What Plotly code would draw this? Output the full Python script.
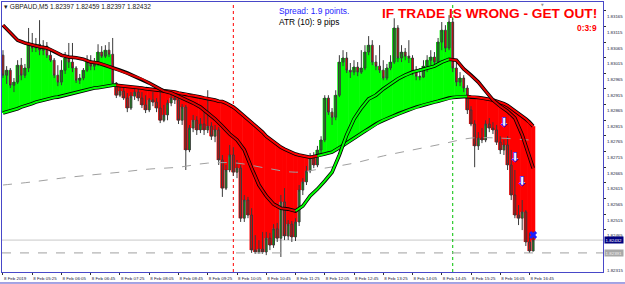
import pandas as pd
import plotly.graph_objects as go

symbol = "GBPAUD,M5"
bar_start = "2019-02-08 04:45"
n_bars = 146

open_p = [1.83023, 1.82959, 1.82975, 1.82927, 1.82937, 1.82991, 1.82959, 1.82982, 1.83058, 1.83046,
          1.83058, 1.83039, 1.83052, 1.83023, 1.83007, 1.82959, 1.82937, 1.82975, 1.83014, 1.83001,
          1.82982, 1.82943, 1.82950, 1.82975, 1.83001, 1.82988, 1.82995, 1.83033, 1.83020, 1.83039,
          1.83026, 1.82934, 1.82895, 1.82908, 1.82886, 1.82854, 1.82892, 1.82905, 1.82886, 1.82864,
          1.82848, 1.82880, 1.82873, 1.82854, 1.82815, 1.82832, 1.82870, 1.82886, 1.82880, 1.82815,
          1.82857, 1.82720, 1.82790, 1.82815, 1.82784, 1.82803, 1.82784, 1.82796, 1.82764, 1.82784,
          1.82688, 1.82598, 1.82656, 1.82704, 1.82649, 1.82662, 1.82502, 1.82560, 1.82512, 1.82400,
          1.82394, 1.82403, 1.82394, 1.82438, 1.82416, 1.82468, 1.82438, 1.82554, 1.82445, 1.82483,
          1.82442, 1.82490, 1.82592, 1.82618, 1.82653, 1.82694, 1.82672, 1.82720, 1.82752, 1.82886,
          1.82841, 1.82825, 1.82895, 1.83001, 1.83014, 1.82975, 1.82969, 1.82985, 1.82969, 1.82982,
          1.83033, 1.83055, 1.83001, 1.82988, 1.82975, 1.82950, 1.82982, 1.83001, 1.83110, 1.83014,
          1.83033, 1.83020, 1.83014, 1.82969, 1.82956, 1.82953, 1.82988, 1.83007, 1.83017, 1.83001,
          1.83065, 1.83103, 1.83046, 1.83129, 1.82982, 1.82937, 1.82950, 1.82918, 1.82848, 1.82803,
          1.82733, 1.82758, 1.82752, 1.82803, 1.82790, 1.82784, 1.82745, 1.82720, 1.82736, 1.82672,
          1.82576, 1.82512, 1.82502, 1.82522, 1.82426, 1.82397]
high_p = [1.83039, 1.82988, 1.82982, 1.82950, 1.83007, 1.83014, 1.82995, 1.83110, 1.83094, 1.83078,
          1.83135, 1.83071, 1.83065, 1.83046, 1.83014, 1.82991, 1.83007, 1.83033, 1.83062, 1.83062,
          1.82988, 1.82963, 1.82982, 1.83023, 1.83023, 1.83014, 1.83058, 1.83052, 1.83055, 1.83065,
          1.83078, 1.82937, 1.82921, 1.82918, 1.82902, 1.82905, 1.82921, 1.82915, 1.82905, 1.82895,
          1.82886, 1.82905, 1.82886, 1.82905, 1.82864, 1.82880, 1.82905, 1.82899, 1.82886, 1.82867,
          1.82864, 1.82800, 1.82832, 1.82828, 1.82822, 1.82841, 1.82911, 1.82809, 1.82800, 1.82793,
          1.82704, 1.82672, 1.82736, 1.82729, 1.82688, 1.82672, 1.82576, 1.82570, 1.82534, 1.82448,
          1.82432, 1.82458, 1.82458, 1.82455, 1.82483, 1.82487, 1.82576, 1.82598, 1.82496, 1.82493,
          1.82502, 1.82608, 1.82630, 1.82669, 1.82710, 1.82713, 1.82733, 1.82764, 1.82895, 1.82895,
          1.82854, 1.82911, 1.83023, 1.83039, 1.83033, 1.82998, 1.83007, 1.83001, 1.83039, 1.83055,
          1.83084, 1.83071, 1.83023, 1.83055, 1.83007, 1.82995, 1.83023, 1.83141, 1.83119, 1.83055,
          1.83046, 1.83071, 1.83023, 1.82988, 1.82982, 1.83007, 1.83023, 1.83039, 1.83033, 1.83078,
          1.83129, 1.83119, 1.83151, 1.83141, 1.83001, 1.82969, 1.82959, 1.82927, 1.82860, 1.82815,
          1.82777, 1.82790, 1.82815, 1.82822, 1.82809, 1.82800, 1.82764, 1.82752, 1.82764, 1.82720,
          1.82656, 1.82544, 1.82560, 1.82528, 1.82455, 1.82459]
low_p = [1.82950, 1.82931, 1.82918, 1.82905, 1.82931, 1.82943, 1.82950, 1.82969, 1.83033, 1.83033,
         1.83023, 1.83023, 1.83014, 1.83001, 1.82950, 1.82924, 1.82927, 1.82963, 1.82982, 1.82969,
         1.82934, 1.82931, 1.82943, 1.82969, 1.82975, 1.82975, 1.82988, 1.83014, 1.83014, 1.83017,
         1.82927, 1.82886, 1.82889, 1.82880, 1.82841, 1.82848, 1.82880, 1.82876, 1.82854, 1.82838,
         1.82841, 1.82860, 1.82841, 1.82806, 1.82809, 1.82815, 1.82860, 1.82867, 1.82803, 1.82800,
         1.82656, 1.82713, 1.82777, 1.82768, 1.82774, 1.82768, 1.82774, 1.82752, 1.82745, 1.82672,
         1.82570, 1.82592, 1.82649, 1.82637, 1.82630, 1.82490, 1.82490, 1.82502, 1.82391, 1.82388,
         1.82388, 1.82388, 1.82384, 1.82400, 1.82407, 1.82426, 1.82378, 1.82432, 1.82432, 1.82426,
         1.82429, 1.82477, 1.82576, 1.82608, 1.82646, 1.82662, 1.82665, 1.82710, 1.82745, 1.82832,
         1.82800, 1.82815, 1.82889, 1.82988, 1.82966, 1.82950, 1.82959, 1.82956, 1.82963, 1.82975,
         1.83023, 1.82991, 1.82975, 1.82966, 1.82943, 1.82943, 1.82975, 1.82995, 1.83001, 1.83001,
         1.83007, 1.82998, 1.82959, 1.82943, 1.82943, 1.82950, 1.82969, 1.82991, 1.82991, 1.82995,
         1.83039, 1.83033, 1.83039, 1.82969, 1.82924, 1.82924, 1.82905, 1.82835, 1.82796, 1.82665,
         1.82720, 1.82742, 1.82745, 1.82777, 1.82771, 1.82736, 1.82707, 1.82704, 1.82656, 1.82560,
         1.82502, 1.82480, 1.82464, 1.82413, 1.82391, 1.82397]
close_p = [1.82959, 1.82975, 1.82927, 1.82937, 1.82991, 1.82959, 1.82982, 1.83058, 1.83046, 1.83058,
           1.83039, 1.83052, 1.83023, 1.83007, 1.82959, 1.82937, 1.82975, 1.83014, 1.83001, 1.82982,
           1.82943, 1.82950, 1.82975, 1.83001, 1.82988, 1.82995, 1.83033, 1.83020, 1.83039, 1.83026,
           1.82934, 1.82895, 1.82908, 1.82886, 1.82854, 1.82892, 1.82905, 1.82886, 1.82864, 1.82848,
           1.82880, 1.82873, 1.82854, 1.82815, 1.82832, 1.82870, 1.82886, 1.82880, 1.82815, 1.82857,
           1.82720, 1.82790, 1.82815, 1.82784, 1.82803, 1.82784, 1.82796, 1.82764, 1.82784, 1.82688,
           1.82598, 1.82656, 1.82704, 1.82649, 1.82662, 1.82502, 1.82560, 1.82512, 1.82400, 1.82394,
           1.82403, 1.82394, 1.82438, 1.82416, 1.82468, 1.82438, 1.82554, 1.82445, 1.82483, 1.82442,
           1.82490, 1.82592, 1.82618, 1.82653, 1.82694, 1.82672, 1.82720, 1.82752, 1.82886, 1.82841,
           1.82825, 1.82895, 1.83001, 1.83014, 1.82975, 1.82969, 1.82985, 1.82969, 1.82982, 1.83033,
           1.83055, 1.83001, 1.82988, 1.82975, 1.82950, 1.82982, 1.83001, 1.83110, 1.83014, 1.83033,
           1.83020, 1.83014, 1.82969, 1.82956, 1.82953, 1.82988, 1.83007, 1.83017, 1.83001, 1.83065,
           1.83103, 1.83046, 1.83129, 1.82982, 1.82937, 1.82950, 1.82918, 1.82848, 1.82803, 1.82733,
           1.82758, 1.82752, 1.82803, 1.82790, 1.82784, 1.82745, 1.82720, 1.82736, 1.82672, 1.82576,
           1.82512, 1.82502, 1.82522, 1.82426, 1.82397, 1.82432]

# slow moving average (one value per bar)
slow_ma = [1.82838, 1.82841, 1.82844, 1.82848, 1.82852, 1.82857, 1.82860, 1.82864, 1.82868, 1.82873,
           1.82876, 1.82880, 1.82883, 1.82886, 1.82888, 1.82889, 1.82892, 1.82895, 1.82897, 1.82899,
           1.82902, 1.82905, 1.82908, 1.82911, 1.82915, 1.82918, 1.82919, 1.82921, 1.82924, 1.82926,
           1.82927, 1.82927, 1.82926, 1.82924, 1.82924, 1.82923, 1.82921, 1.82919, 1.82918, 1.82916,
           1.82915, 1.82913, 1.82911, 1.82911, 1.82910, 1.82908, 1.82907, 1.82905, 1.82902, 1.82900,
           1.82899, 1.82895, 1.82894, 1.82892, 1.82889, 1.82886, 1.82884, 1.82883, 1.82880, 1.82876,
           1.82875, 1.82870, 1.82864, 1.82857, 1.82848, 1.82838, 1.82828, 1.82819, 1.82809, 1.82800,
           1.82787, 1.82777, 1.82764, 1.82755, 1.82745, 1.82736, 1.82729, 1.82723, 1.82717, 1.82712,
           1.82707, 1.82704, 1.82701, 1.82699, 1.82697, 1.82699, 1.82701, 1.82704, 1.82707, 1.82710,
           1.82713, 1.82720, 1.82726, 1.82734, 1.82742, 1.82750, 1.82758, 1.82766, 1.82774, 1.82780,
           1.82787, 1.82795, 1.82803, 1.82809, 1.82815, 1.82820, 1.82825, 1.82830, 1.82835, 1.82840,
           1.82844, 1.82848, 1.82852, 1.82857, 1.82860, 1.82864, 1.82867, 1.82870, 1.82873, 1.82876,
           1.82880, 1.82883, 1.82886, 1.82888, 1.82889, 1.82891, 1.82891, 1.82891, 1.82889, 1.82889,
           1.82888, 1.82886, 1.82884, 1.82883, 1.82880, 1.82876, 1.82873, 1.82868, 1.82862, 1.82854,
           1.82844, 1.82836, 1.82828, 1.82819, 1.82809, 1.82796]

# fast moving average, read every second bar
fast_ma_bars = list(range(0, 145, 2)) + [145]
fast_ma = [1.83119, 1.83094, 1.83071, 1.83062, 1.83055, 1.83050, 1.83046, 1.83036, 1.83023, 1.83017,
           1.83015, 1.83010, 1.83001, 1.82998, 1.82991, 1.82982, 1.82975, 1.82966, 1.82956, 1.82947,
           1.82934, 1.82921, 1.82908, 1.82902, 1.82892, 1.82880, 1.82870, 1.82857, 1.82838, 1.82819,
           1.82796, 1.82771, 1.82752, 1.82720, 1.82662, 1.82608, 1.82573, 1.82547, 1.82534, 1.82531,
           1.82525, 1.82541, 1.82573, 1.82595, 1.82621, 1.82649, 1.82704, 1.82768, 1.82819, 1.82854,
           1.82883, 1.82895, 1.82915, 1.82931, 1.82947, 1.82959, 1.82969, 1.82975, 1.82982, 1.82988,
           1.83001, 1.83010, 1.83007, 1.82979, 1.82959, 1.82937, 1.82908, 1.82880, 1.82860, 1.82844,
           1.82822, 1.82768, 1.82697, 1.82662]

# long moving average (gray dashed), read every eighth bar
long_ma_bars = list(range(0, 145, 8)) + [145]
long_ma = [1.82608, 1.82618, 1.82630, 1.82640, 1.82649, 1.82659, 1.82665, 1.82678, 1.82678, 1.82662,
           1.82649, 1.82662, 1.82678, 1.82701, 1.82720, 1.82739, 1.82758, 1.82758, 1.82752, 1.82752]

price_ticks = [1.82465, 1.82515, 1.82565, 1.82615, 1.82665, 1.82715, 1.82765, 1.82815,
               1.82865, 1.82915, 1.82965, 1.83015, 1.83065, 1.83115, 1.83165]
bottom_tick = 1.82315
time_labels = ["8 Feb 2019", "8 Feb 05:25", "8 Feb 06:05", "8 Feb 06:45", "8 Feb 07:25",
               "8 Feb 08:05", "8 Feb 08:45", "8 Feb 09:25", "8 Feb 10:05", "8 Feb 10:45",
               "8 Feb 11:25", "8 Feb 12:05", "8 Feb 12:45", "8 Feb 13:25", "8 Feb 14:05",
               "8 Feb 14:45", "8 Feb 15:25", "8 Feb 16:05", "8 Feb 16:45"]
signal_bars = [137, 140, 142]
signal_prices = [1.82809, 1.82697, 1.82621]
exit_bar = 145
exit_price = 1.82448
bid_price = 1.82432
level_price = 1.82391
session_marks = ["2019-02-08 10:00", "2019-02-08 15:00"]
session_colors = ["#FF0000", "#00C000"]

BLUE = "#4848C8"
AX_FONT = dict(family="Liberation Sans", size=4.4, color="#1a1a3a")

times = pd.date_range(bar_start, periods=n_bars, freq="5min")
step = pd.Timedelta(minutes=5)
y0, y1 = 1.82330, 1.83193
LABEL_SHIFT = 6

fig = go.Figure()

# histogram between slow MA and close
above = [c > s for c, s in zip(close_p, slow_ma)]
fig.add_trace(go.Bar(
    x=times, base=slow_ma, y=[c - s for c, s in zip(close_p, slow_ma)],
    width=step.total_seconds() * 1000 * 1.15,
    marker=dict(color=["#00FF00" if a else "#FF0000" for a in above], line=dict(width=0)),
    hoverinfo="skip"))

# long MA
fig.add_trace(go.Scatter(x=times[long_ma_bars], y=long_ma, mode="lines",
                         line=dict(color="#A0A0A0", width=1, dash="dash", shape="spline"),
                         hoverinfo="skip"))

# candles
fig.add_trace(go.Candlestick(
    x=times, open=open_p, high=high_p, low=low_p, close=close_p,
    increasing=dict(fillcolor="#0A980A", line=dict(color="#3a3a3a", width=1)),
    decreasing=dict(fillcolor="#E60000", line=dict(color="#3a3a3a", width=1)),
    whiskerwidth=0, hoverinfo="skip"))


def runs(flags):
    out, s = [], 0
    for i in range(1, len(flags) + 1):
        if i == len(flags) or flags[i] != flags[s]:
            out.append((s, i - 1, flags[s]))
            s = i
    return out


# slow MA: black outline + coloured core
fig.add_trace(go.Scatter(x=times, y=slow_ma, mode="lines",
                         line=dict(color="#000000", width=3.6), hoverinfo="skip"))
for a, b, flag in runs(above):
    e = min(b + 1, n_bars - 1)
    fig.add_trace(go.Scatter(x=times[a:e + 1], y=slow_ma[a:e + 1], mode="lines",
                             line=dict(color="#00FF00" if flag else "#FF0000", width=2),
                             hoverinfo="skip"))

# fast MA: black outline + coloured core by slope
fx = times[fast_ma_bars]
fig.add_trace(go.Scatter(x=fx, y=fast_ma, mode="lines",
                         line=dict(color="#000000", width=3.6), hoverinfo="skip"))
rising = [fast_ma[k + 1] > fast_ma[k] for k in range(len(fast_ma) - 1)]
for a, b, flag in runs(rising):
    fig.add_trace(go.Scatter(x=fx[a:b + 2], y=fast_ma[a:b + 2], mode="lines",
                             line=dict(color="#00FF00" if flag else "#E00000", width=2),
                             hoverinfo="skip"))

# exit mark
fig.add_trace(go.Scatter(x=[times[exit_bar]], y=[exit_price], mode="markers",
                         marker=dict(symbol="x", size=7, color="#1E1EFF"), hoverinfo="skip"))

shapes = [
    dict(type="line", xref="paper", x0=0, x1=1, yref="y", y0=bid_price, y1=bid_price,
         line=dict(color="#C8C8C8", width=1), layer="below"),
    dict(type="line", xref="paper", x0=0, x1=1, yref="y", y0=level_price, y1=level_price,
         line=dict(color="#A0A0A0", width=1, dash="dash"), layer="above"),
    dict(type="line", xref="paper", x0=-0.004, x1=1.04, yref="paper", y0=-0.0407, y1=-0.0407,
         line=dict(color=BLUE, width=1)),
]
for t, c in zip(session_marks, session_colors):
    shapes.append(dict(type="line", xref="x", x0=pd.Timestamp(t), x1=pd.Timestamp(t),
                       yref="paper", y0=0, y1=1, line=dict(color=c, width=1, dash="dot"),
                       layer="below"))

annotations = []
for b, p in zip(signal_bars, signal_prices):
    annotations.append(dict(x=times[b], y=p, text="⬇", showarrow=False, borderpad=0,
                            font=dict(family="DejaVu Sans", size=12, color="#FFFFFF")))
    annotations.append(dict(x=times[b], y=p, text="⇩", showarrow=False, borderpad=0,
                            font=dict(family="DejaVu Sans", size=14, color="#1E1EFF")))

title_txt = "▾ {} {:.5f} {:.5f} {:.5f} {:.5f}".format(symbol, open_p[-1], high_p[-1], low_p[-1], close_p[-1])
annotations += [
    dict(xref="paper", yref="paper", x=0.0017, y=0.985, xanchor="left", yanchor="middle",
         text=title_txt, showarrow=False, borderpad=0,
         font=dict(family="Liberation Sans", size=6.6, color="#202020")),
    dict(xref="paper", yref="paper", x=0.4592, y=0.948, xanchor="left", yanchor="middle",
         text="<span style='color:#1E1EFF'>Spread: 1.9 points.</span><br>ATR (10): 9 pips",
         showarrow=False, align="left", borderpad=0,
         font=dict(family="Liberation Sans", size=8.4, color="#000000")),
    dict(xref="paper", yref="paper", x=0.9917, y=0.9556, xanchor="right", yanchor="middle",
         text="<b>IF TRADE IS WRONG - GET OUT!</b>", showarrow=False, borderpad=0,
         font=dict(family="Liberation Sans", size=13.7, color="#FF0000")),
    dict(xref="paper", yref="paper", x=0.9917, y=0.9037, xanchor="right", yanchor="middle",
         text="<b>0:3:9</b>", showarrow=False, borderpad=0,
         font=dict(family="Liberation Sans", size=8.4, color="#FF0000")),
    dict(xref="paper", yref="y", x=1, y=bid_price, xanchor="left", yanchor="middle", xshift=1,
         text="{:.5f}".format(bid_price), showarrow=False, bgcolor="#000080", borderpad=0.6,
         font=dict(family="Liberation Sans", size=4.4, color="#FFFFFF")),
    dict(xref="paper", yref="y", x=1, y=level_price, xanchor="left", yanchor="middle", xshift=1,
         text="{:.5f}".format(level_price), showarrow=False, bgcolor="#A8A8A8", borderpad=0.6,
         font=dict(family="Liberation Sans", size=4.4, color="#F0F0F0")),
    dict(xref="paper", yref="paper", x=1, y=(bottom_tick - y0) / (y1 - y0), xanchor="left",
         yanchor="middle", xshift=3, yshift=LABEL_SHIFT, text="{:.5f}".format(bottom_tick),
         showarrow=False, font=AX_FONT, borderpad=0),
    dict(xref="paper", yref="paper", x=0.9, y=1.0, xanchor="center", yanchor="top",
         text="▼", showarrow=False, borderpad=0,
         font=dict(family="DejaVu Sans", size=3.5, color="#909090")),
]

fig.update_layout(
    width=625, height=284,
    margin=dict(l=2, r=22, t=2, b=12, autoexpand=False),
    paper_bgcolor="#FFFFFF", plot_bgcolor="#FFFFFF",
    showlegend=False, barmode="overlay",
    shapes=shapes, annotations=annotations,
    xaxis=dict(type="date", range=[times[0] - 0.27 * step, times[0] + 164.1 * step],
               showgrid=False, zeroline=False, showline=True, mirror=True,
               linecolor=BLUE, linewidth=1, ticks="outside", ticklen=2, tickcolor="#303030",
               tickvals=list(times[::8]), ticktext=time_labels, tickfont=AX_FONT,
               tickangle=0, ticklabelposition="outside right", ticklabelstandoff=2,
               rangeslider=dict(visible=False)),
    yaxis=dict(side="right", range=[y0, y1], showgrid=False, zeroline=False,
               showline=True, mirror=True, linecolor=BLUE, linewidth=1,
               ticks="outside", ticklen=2, tickcolor="#303030",
               tickvals=price_ticks, ticktext=["{:.5f}".format(v) for v in price_ticks],
               tickfont=AX_FONT, ticklabelshift=LABEL_SHIFT),
)

fig.write_html("out.html")
